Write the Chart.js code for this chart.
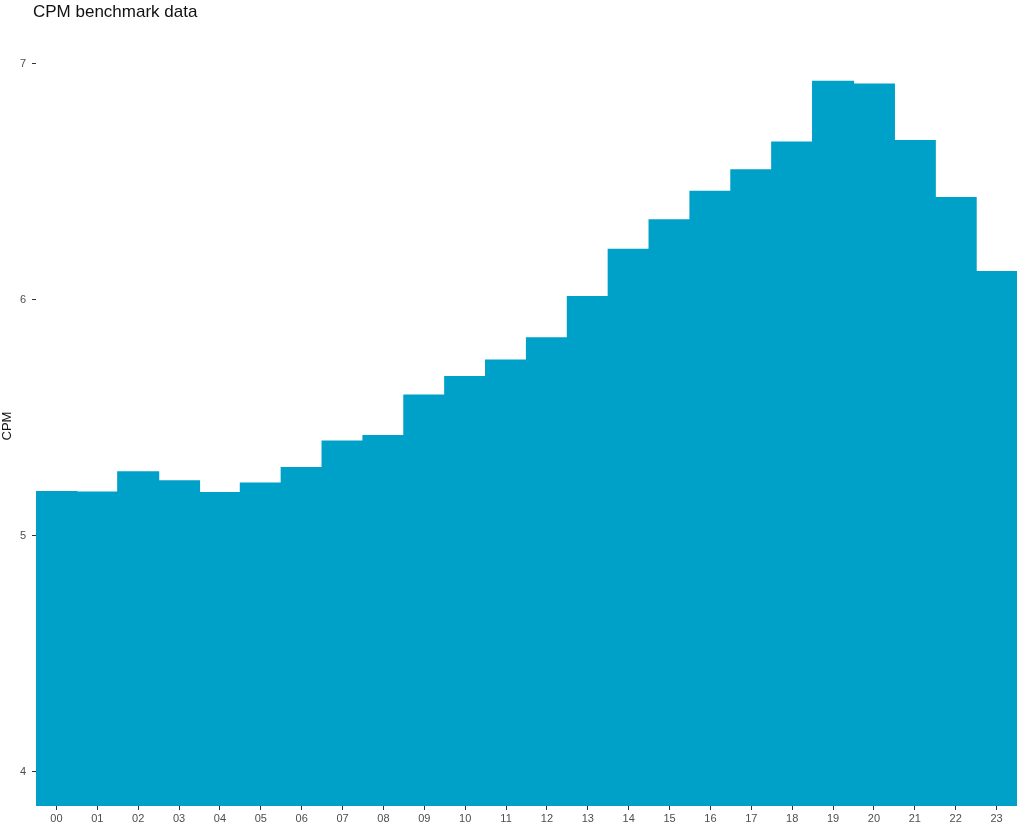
<!DOCTYPE html>
<html>
<head>
<meta charset="utf-8">
<script src="https://cdn.jsdelivr.net/npm/chart.js@4/dist/chart.umd.min.js"></script>
<style>
  body { margin: 0; background: #fff; font-family: "Liberation Sans", Arial, sans-serif; }
  #wrap { position: relative; width: 1024px; height: 830px; }
  #title { position: absolute; left: 33px; top: 2px; font-size: 17px; color: #111; }
</style>
</head>
<body>
<div id="wrap">
  <div id="title">CPM benchmark data</div>
  <canvas id="chart" width="1024" height="830"></canvas>
</div>
<script>
// Hours of the day
const hours = ['00','01','02','03','04','05','06','07','08','09','10','11',
               '12','13','14','15','16','17','18','19','20','21','22','23'];

// CPM per hour
const cpm = [5.186, 5.184, 5.270, 5.232, 5.182, 5.223, 5.288, 5.400, 5.424, 5.595, 5.674, 5.744,
             5.838, 6.013, 6.213, 6.338, 6.459, 6.550, 6.668, 6.925, 6.914, 6.674, 6.432, 6.119];

const yTicks = [4, 5, 6, 7];

const tickGrey = '#4d4d4d';

new Chart(document.getElementById('chart'), {
  type: 'bar',
  data: {
    labels: hours,
    datasets: [{
      label: 'CPM',
      data: cpm,
      backgroundColor: '#00A1C8',
      borderWidth: 0,
      inflateAmount: 0.6, // hide the thin seams between touching bars
      categoryPercentage: 1.0,
      barPercentage: 1.0
    }]
  },
  options: {
    responsive: false,
    animation: false,
    layout: { padding: { top: 46, right: 7, bottom: 0, left: 0 } },
    plugins: {
      legend: { display: false },
      tooltip: { enabled: false }
    },
    scales: {
      x: {
        border: { display: false },
        grid: { drawOnChartArea: false, offset: false, tickLength: 4, tickColor: '#333', lineWidth: 1 },
        ticks: { color: tickGrey, font: { size: 11, family: 'Liberation Sans' }, padding: 2, maxRotation: 0 },
        afterFit: s => { s.height = 24; }
      },
      y: {
        min: 3.854,
        max: 7.075,
        border: { display: false },
        grid: { drawOnChartArea: false, tickLength: 4, tickColor: '#333', lineWidth: 1 },
        afterBuildTicks: s => { s.ticks = yTicks.map(v => ({ value: v })); },
        ticks: { color: tickGrey, font: { size: 11, family: 'Liberation Sans' }, padding: 6 },
        title: { display: true, text: 'CPM', color: '#111', font: { size: 13, family: 'Liberation Sans' }, padding: 0 },
        afterFit: s => { s.width = 36; }
      }
    }
  }
});
</script>
</body>
</html>
